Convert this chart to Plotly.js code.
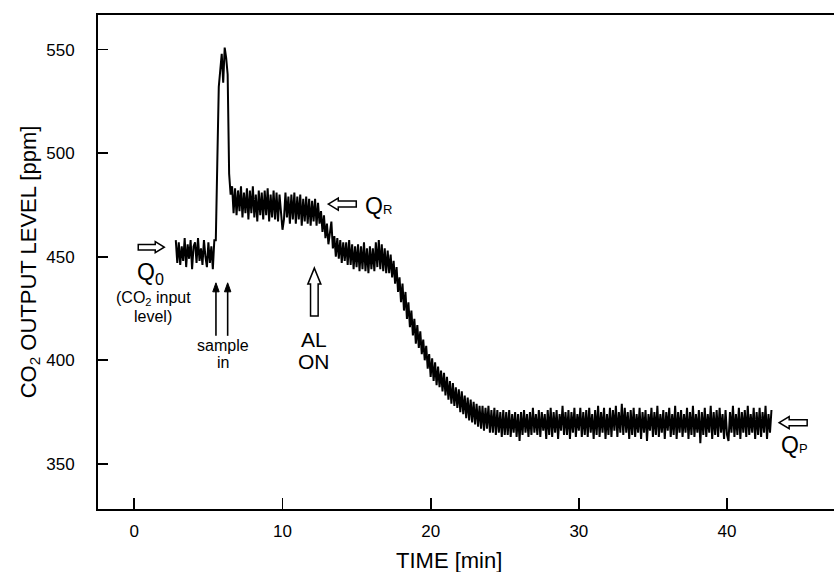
<!DOCTYPE html>
<html><head><meta charset="utf-8">
<script src="https://cdn.plot.ly/plotly-3.0.1.min.js"></script>
<style>html,body{margin:0;padding:0;background:#fff}#chart{width:834px;height:572px}</style>
</head><body><div id="chart"></div>
<script>
// time axis of the recorded trace (minutes)
const startMin = 2.8;
const stepMin = 0.1;

// CO2 output readings (ppm), one per 0.1 min
const baselineQ0 = [458,447,457,446,455,448,459,445,456,449,458,444,455,457,447,459,448,454,446,458,450,445,457,447,455,444,458];
const samplePeak = [458,495,532,540,548,534,551,546,538,490,480];
const plateauQR = [
  484,471,483,470,482,472,484,469,481,471,
  483,468,482,471,484,469,480,467,482,470,
  481,468,482,470,483,467,480,469,482,468,
  481,467,480,469,463,468,481,469,479,466,
  480,468,481,466,479,468,480,465,478,467,
  479,466,478,465,477,467,478,465,476,466];
const alOnStep = [
  472,462,470,459,466,456,463,467,454,460,
  450,459,449,458,447,457,448,457,446,458,
  446,456,444,455,445,456,443,455,444,457,
  443,454,442,455,444,454,443,457,445,458,
  444,456,443,454,442];
const decline = [
  453,442,451,440,448,437,445,433,440,428,
  437,424,433,420,428,416,424,412,420,408,
  417,406,414,403,410,400,407,396,403,392,
  401,390,399,388,397,387,395,385,394,383,
  392,381,390,379,389,378,387,377,386,375,
  385,374,383,372,382,371,381,370,380,369,
  379,368,378,367,378,366,377,367,378,365,
  376,365,377,364,376,365,375,363,376,364,
  375,364,376,363,374,365,375,363,374,361];
const plateauQP = [
  375,364,376,365,374,363,375,364,377,365,
  374,364,376,363,375,366,374,362,376,364,
  377,363,375,365,376,362,374,366,378,364,
  375,364,376,362,375,365,377,363,374,366,
  377,363,375,364,376,363,377,365,374,362,
  376,364,378,363,375,365,377,362,374,364,
  377,363,376,366,378,363,375,365,379,364,
  377,365,375,362,376,364,377,363,374,365,
  377,362,375,365,376,361,374,366,377,363,
  375,364,378,363,374,365,376,362,375,366,
  377,363,374,364,378,362,375,365,376,363,
  374,365,377,362,375,364,378,363,374,365,
  376,360,375,364,377,363,374,365,378,362,
  375,364,376,363,377,365,374,362,376,364,
  361,375,365,378,363,374,364,377,362,375,
  365,376,363,378,364,374,365,377,362,375,
  364,377,363,375,365,378,362,374,365,376];
const co2 = [].concat(baselineQ0, samplePeak, plateauQR, alOnStep, decline, plateauQP);

const xTicks = [0, 10, 20, 30, 40];
const yTicks = [350, 400, 450, 500, 550];
const xRange = [-2.45, 47.22];
const yRange = [328.2, 566.7];

const FONT = 'Liberation Sans, Arial, sans-serif';
const W = 834, H = 572, M = {l: 98, r: 0, t: 15, b: 63};
const pxPerX = (W - M.l - M.r) / (xRange[1] - xRange[0]);
const pxPerY = (H - M.t - M.b) / (yRange[1] - yRange[0]);

// hollow block arrow (tip in data units, sizes in px)
function hollowArrow(tx, ty, dir, len, hl, hw, sw) {
  let pts;
  if (dir === 'right') pts = [[0,0],[-hl,hw],[-hl,sw],[-len,sw],[-len,-sw],[-hl,-sw],[-hl,-hw]];
  else if (dir === 'left') pts = [[0,0],[hl,hw],[hl,sw],[len,sw],[len,-sw],[hl,-sw],[hl,-hw]];
  else pts = [[0,0],[hw,-hl],[sw,-hl],[sw,-len],[-sw,-len],[-sw,-hl],[-hw,-hl]];
  const d = pts.map((p, i) => (i ? 'L' : 'M') + (tx + p[0] / pxPerX).toFixed(4) + ',' + (ty + p[1] / pxPerY).toFixed(4)).join(' ') + ' Z';
  return {type: 'path', xref: 'x', yref: 'y', path: d, fillcolor: '#fff', line: {color: '#000', width: 1.5}, layer: 'above'};
}
// thin arrow pointing up
function thinArrow(tx, ty, len) {
  const tail = ty - len / pxPerY;
  const hl = 9 / pxPerY, hw = 3.2 / pxPerX;
  return [
    {type: 'line', xref: 'x', yref: 'y', x0: tx, x1: tx, y0: tail, y1: ty - hl * 0.6, line: {color: '#000', width: 1.6}},
    {type: 'path', xref: 'x', yref: 'y', path: `M${tx},${ty} L${tx + hw},${ty - hl} L${tx - hw},${ty - hl} Z`, fillcolor: '#000', line: {color: '#000', width: 1}}
  ];
}

const shapes = [
  hollowArrow(2.02, 454.6, 'right', 26, 9, 5.5, 2.8),
  hollowArrow(13.09, 475.4, 'left', 28, 10, 6, 3),
  hollowArrow(43.52, 369.9, 'left', 28, 10, 6, 3),
  hollowArrow(12.15, 444.5, 'up', 48, 16, 6.5, 3.8),
  ...thinArrow(5.51, 437.4, 53),
  ...thinArrow(6.30, 437.4, 53)
];

function lab(x, y, text, size, opts) {
  return Object.assign({xref: 'x', yref: 'y', x: x, y: y, text: text, showarrow: false,
    font: {family: FONT, size: size, color: '#000'}, xanchor: 'center', yanchor: 'middle'}, opts || {});
}
const annotations = [
  lab(1.08, 441.8, 'Q<sub>0</sub>', 23),
  lab(1.32, 429.8, '(CO<sub>2</sub> input', 16),
  lab(1.28, 421.0, 'level)', 16),
  lab(6.0, 406.9, 'sample', 16),
  lab(6.0, 398.7, 'in', 16),
  lab(12.15, 409.8, 'AL', 21),
  lab(12.15, 399.2, 'ON', 21),
  lab(16.46, 474.6, 'Q<span style="font-size:13px">R</span>', 23),
  lab(44.53, 359.2, 'Q<span style="font-size:13px">P</span>', 23),
  {xref: 'paper', yref: 'paper', x: (449 - M.l) / (W - M.l - M.r), y: -(561 - (H - M.b)) / (H - M.t - M.b),
   text: 'TIME [min]', showarrow: false, xanchor: 'center', yanchor: 'middle',
   font: {family: FONT, size: 22, color: '#000'}}
];

const trace = {
  type: 'scatter', mode: 'lines',
  x0: startMin, dx: stepMin, y: co2,
  line: {color: '#000', width: 2},
  hoverinfo: 'skip'
};

const layout = {
  width: W, height: H, margin: M,
  paper_bgcolor: '#fff', plot_bgcolor: '#fff',
  showlegend: false,
  font: {family: FONT, color: '#000'},
  xaxis: {
    range: xRange, tickvals: xTicks, ticktext: xTicks.map(String),
    showgrid: false, zeroline: false, showline: true, linecolor: '#000', linewidth: 2, mirror: true,
    ticks: 'inside', ticklen: 11, tickwidth: 1.8, tickcolor: '#000',
    tickfont: {family: FONT, size: 17, color: '#000'}, ticklabelstandoff: 6,
    automargin: false
  },
  yaxis: {
    range: yRange, tickvals: yTicks, ticktext: yTicks.map(String),
    showgrid: false, zeroline: false, showline: true, linecolor: '#000', linewidth: 2, mirror: false,
    ticks: 'inside', ticklen: 10, tickwidth: 1.8, tickcolor: '#000',
    tickfont: {family: FONT, size: 17, color: '#000'}, ticklabelstandoff: 18,
    title: {text: 'CO<sub>2</sub> OUTPUT LEVEL [ppm]', font: {family: FONT, size: 22, color: '#000'}, standoff: 4},
    automargin: false
  },
  shapes: shapes,
  annotations: annotations
};

Plotly.newPlot('chart', [trace], layout, {staticPlot: true, displayModeBar: false});
</script></body></html>
